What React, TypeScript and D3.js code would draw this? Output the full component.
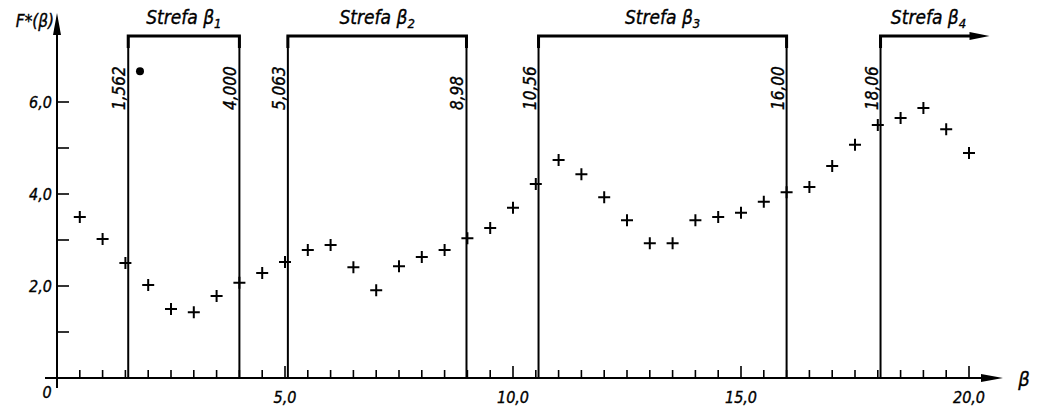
import * as d3 from "d3";

// measured points, beta every 0.5
const betaValues = [0.5, 1.0, 1.5, 2.0, 2.5, 3.0, 3.5, 4.0, 4.5, 5.0, 5.5, 6.0, 6.5, 7.0, 7.5, 8.0, 8.5, 9.0, 9.5, 10.0,
  10.5, 11.0, 11.5, 12.0, 12.5, 13.0, 13.5, 14.0, 14.5, 15.0, 15.5, 16.0, 16.5, 17.0, 17.5, 18.0, 18.5, 19.0, 19.5, 20.0];
const fValues = [3.5, 3.02, 2.5, 2.02, 1.5, 1.43, 1.78, 2.07, 2.28, 2.52, 2.78, 2.89, 2.41, 1.91, 2.43, 2.63, 2.78, 3.04, 3.26, 3.7,
  4.22, 4.74, 4.43, 3.93, 3.43, 2.93, 2.93, 3.43, 3.5, 3.59, 3.83, 4.04, 4.15, 4.61, 5.07, 5.5, 5.65, 5.87, 5.41, 4.89];

// zones
const zoneIndex = ["1", "2", "3", "4"];
const zoneStart = [1.562, 5.063, 10.56, 18.06];
const zoneEnd = [4.0, 8.98, 16.0, 20.45];
const zoneStartLabels = ["1,562", "5,063", "10,56", "18,06"];
const zoneEndLabels = ["4,000", "8,98", "16,00", ""];

// axis ticks
const xMinorTicks = d3.range(1, 41).map((i) => i * 0.5);
const xLabelTicks = [5, 10, 15, 20];
const xLabels = ["5,0", "10,0", "15,0", "20,0"];
const yTicks = [1, 2, 3, 4, 5, 6];
const yLabelTicks = [2, 4, 6];
const yLabels = ["2,0", "4,0", "6,0"];

// odd black dot in the plot
const dotPoint = [1.82, 6.67];

const font = "'DejaVu Sans Condensed', 'DejaVu Sans', sans-serif";

export default function App() {
  const x = d3.scaleLinear().domain([0, 20]).range([57, 969]);
  const y = d3.scaleLinear().domain([0, 6]).range([378, 102]);
  const bracketY = 36;
  const axisEndX = 1003;
  const axisTopY = 13;
  const txt = { stroke: "#000", strokeWidth: 0.35 };

  return (
    <svg width={1040} height={410} style={{ position: "absolute", left: 0, top: 0, background: "#fff" }}
      fontFamily={font} fontStyle="italic">
      {/* zones */}
      {zoneStart.map((s, i) => {
        const x1 = x(s);
        const x2 = x(zoneEnd[i]);
        const last = i === zoneStart.length - 1;
        return (
          <g key={i}>
            <line x1={x1} x2={x1} y1={bracketY} y2={y(0)} stroke="#000" strokeWidth={2} />
            {!last && <line x1={x2} x2={x2} y1={bracketY} y2={y(0)} stroke="#000" strokeWidth={2} />}
            <path d={last ? `M${x1},${bracketY + 12} V${bracketY} H${x2 - 16}` : `M${x1},${bracketY + 12} V${bracketY} H${x2} V${bracketY + 12}`}
              fill="none" stroke="#000" strokeWidth={3} />
            {last && <path d={`M${x2},${bracketY} L${x2 - 20},${bracketY - 4} L${x2 - 20},${bracketY + 4} Z`} fill="#000" />}
            <text x={last ? x1 + 48 : (x1 + x2) / 2} y={bracketY - 12} textAnchor="middle" fontSize={19} {...txt}>
              Strefa β<tspan fontSize={13} dy={4}>{zoneIndex[i]}</tspan>
            </text>
            <text transform={`translate(${x1 - 3},${110}) rotate(-90)`} fontSize={17} {...txt}>{zoneStartLabels[i]}</text>
            {!last && <text transform={`translate(${x2 - 3},${110}) rotate(-90)`} fontSize={17} {...txt}>{zoneEndLabels[i]}</text>}
          </g>
        );
      })}

      {/* axes */}
      <line x1={45} x2={axisEndX - 18} y1={y(0)} y2={y(0)} stroke="#000" strokeWidth={2} />
      <path d={`M${axisEndX},${y(0)} L${axisEndX - 22},${y(0) - 4} L${axisEndX - 22},${y(0) + 4} Z`} fill="#000" />
      <line x1={x(0)} x2={x(0)} y1={388} y2={axisTopY + 18} stroke="#000" strokeWidth={2} />
      <path d={`M${x(0)},${axisTopY} L${x(0) - 4},${axisTopY + 22} L${x(0) + 4},${axisTopY + 22} Z`} fill="#000" />

      {xMinorTicks.map((t) => (
        <line key={t} x1={x(t)} x2={x(t)} y1={y(0)} y2={y(0) - (t % 5 === 0 ? 12 : 8)} stroke="#000" strokeWidth={1.6} />
      ))}
      {xLabelTicks.map((t, i) => (
        <text key={t} x={x(t)} y={403} textAnchor="middle" fontSize={16} {...txt}>{xLabels[i]}</text>
      ))}
      <text x={47} y={398} textAnchor="middle" fontSize={16} {...txt}>0</text>
      <text x={1024} y={386} textAnchor="middle" fontSize={20} {...txt}>β</text>

      {yTicks.map((t) => (
        <line key={t} x1={x(0)} x2={x(0) + 12} y1={y(t)} y2={y(t)} stroke="#000" strokeWidth={1.6} />
      ))}
      {yLabelTicks.map((t, i) => (
        <text key={t} x={52} y={y(t) + 6} textAnchor="end" fontSize={16} {...txt}>{yLabels[i]}</text>
      ))}
      <text x={54} y={27} textAnchor="end" fontSize={17} {...txt}>F*(β)</text>

      {/* points */}
      {betaValues.map((b, i) => {
        const px = x(b);
        const py = y(fValues[i]);
        return <path key={i} d={`M${px - 6},${py} H${px + 6} M${px},${py - 6} V${py + 6}`} stroke="#000" strokeWidth={2} />;
      })}
      <circle cx={x(dotPoint[0])} cy={y(dotPoint[1])} r={4} fill="#000" />
    </svg>
  );
}
